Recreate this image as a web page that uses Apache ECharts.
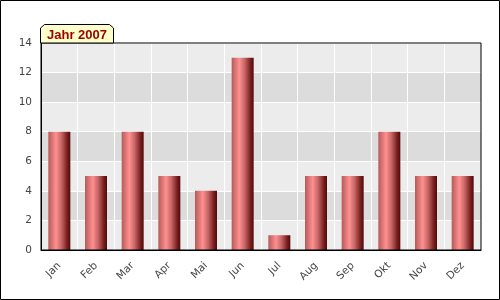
<!DOCTYPE html>
<html>
<head>
<meta charset="utf-8">
<script src="https://cdn.jsdelivr.net/npm/echarts@6/dist/echarts.min.js"></script>
<style>
html,body{margin:0;padding:0;background:#fff;}
#c{width:500px;height:300px;}
</style>
</head>
<body>
<div id="c"></div>
<script>
const title = 'Jahr 2007';
const months = ['Jan','Feb','Mar','Apr','Mai','Jun','Jul','Aug','Sep','Okt','Nov','Dez'];
const values = [8,5,8,5,4,13,1,5,5,8,5,5];
const yTicks = [0,2,4,6,8,10,12,14];

const chart = echarts.init(document.getElementById('c'), null, {renderer:'canvas'});
const barGradient = new echarts.graphic.LinearGradient(0,0,1,0,[
  {offset:0, color:'#b65a5a'},
  {offset:0.35, color:'#ff9090'},
  {offset:0.6, color:'#c46464'},
  {offset:0.85, color:'#7a2020'},
  {offset:1, color:'#520808'}
]);
chart.setOption({
  animation:false,
  backgroundColor:'#ffffff',
  grid:{left:41, right:19, top:43, bottom:50, show:true, borderColor:'#000', borderWidth:1, backgroundColor:'transparent', z:3},
  xAxis:{
    type:'category', data:months,
    axisLine:{show:true, lineStyle:{color:'#000', width:1}},
    axisTick:{show:false},
    axisLabel:{rotate:45, color:'#444', fontFamily:'DejaVu Sans', fontSize:10.5, margin:14},
    splitLine:{show:true, lineStyle:{color:'#ffffff', width:1}}
  },
  yAxis:{
    type:'value', min:yTicks[0], max:yTicks[yTicks.length-1], interval:yTicks[1]-yTicks[0],
    axisLine:{show:true, lineStyle:{color:'#000', width:1}},
    axisTick:{show:false},
    axisLabel:{color:'#444', fontFamily:'DejaVu Sans', fontSize:10.5, margin:9},
    splitLine:{show:true, lineStyle:{color:'#ffffff', width:1}},
    splitArea:{show:true, areaStyle:{color:['#ececec','#dcdcdc']}}
  },
  series:[{
    type:'bar', data:values, barWidth:'60%',
    itemStyle:{color:barGradient}
  }],
  graphic:[
    {type:'rect', shape:{x:0.5,y:0.5,width:499,height:299}, style:{fill:'none', stroke:'#000', lineWidth:1}, z:100},
    {type:'polygon', shape:{points:[[40.5,43],[40.5,28],[44.5,24.5],[109.5,24.5],[113.5,28],[113.5,43]]},
      style:{fill:'#ffffcc', stroke:'#000', lineWidth:1}, z:100},
    {type:'text', left:47, top:29, style:{text:title, fill:'#990000', font:'bold 13px "Liberation Sans", Arial, sans-serif'}, z:101}
  ]
});
</script>
</body>
</html>
